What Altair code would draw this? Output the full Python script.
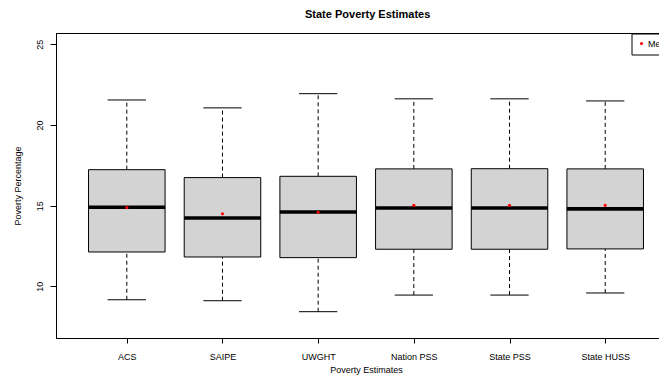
import altair as alt
import pandas as pd
import json

categories = ["ACS", "SAIPE", "UWGHT", "Nation PSS", "State PSS", "State HUSS"]
lower = [9.17, 9.11, 8.43, 9.46, 9.46, 9.59]
q1 = [12.13, 11.82, 11.78, 12.30, 12.30, 12.32]
median = [14.90, 14.24, 14.61, 14.86, 14.86, 14.80]
q3 = [17.23, 16.74, 16.82, 17.28, 17.29, 17.28]
upper = [21.55, 21.06, 21.94, 21.62, 21.62, 21.49]
means = [14.88, 14.50, 14.59, 15.02, 15.02, 15.02]
y_ticks = [10, 15, 20, 25]

df = pd.DataFrame({
    "cat": categories,
    "pos": list(range(1, len(categories) + 1)),
    "lower": lower, "q1": q1, "median": median, "q3": q3, "upper": upper,
    "mean": means, "label": ["Mean"] * len(categories),
})

FONT = "Liberation Sans"
label_expr = json.dumps(categories) + "[datum.value - 1]"

W = 603
H = 305
xs = alt.Scale(domain=[0.26, 0.26 + W / 95.68], nice=False, zero=False)
ys = alt.Scale(domain=[6.8, 25.7], nice=False, zero=False)

x_axis = alt.Axis(values=list(range(1, len(categories) + 1)), labelExpr=label_expr,
                  title="Poverty Estimates", grid=False, tickSize=5, labelPadding=16,
                  labelBaseline="alphabetic", titleX=310, titleY=31, titleBaseline="middle",
                  titleAnchor="middle")
y_axis = alt.Axis(values=y_ticks, title="Poverty Percentage", grid=False, tickSize=6,
                  labelAngle=270, labelAlign="center", labelBaseline="alphabetic",
                  labelPadding=8, titleX=-36, titleBaseline="alphabetic")

base = alt.Chart(df).transform_calculate(
    left="datum.pos - 0.4", right="datum.pos + 0.4",
    capl="datum.pos - 0.2", capr="datum.pos + 0.2")

whisk_up = base.mark_rule(color="black", strokeWidth=1, strokeDash=[4, 3]).encode(
    x=alt.X("pos:Q", scale=xs, axis=x_axis), y=alt.Y("q3:Q", scale=ys, axis=y_axis), y2="upper:Q")
whisk_lo = base.mark_rule(color="black", strokeWidth=1, strokeDash=[4, 3]).encode(
    x="pos:Q", y="lower:Q", y2="q1:Q")
cap_up = base.mark_rule(color="black", strokeWidth=1).encode(
    x="capl:Q", x2="capr:Q", y="upper:Q")
cap_lo = base.mark_rule(color="black", strokeWidth=1).encode(
    x="capl:Q", x2="capr:Q", y="lower:Q")
box = base.mark_rect(fill="#d3d3d3", stroke="black", strokeWidth=1).encode(
    x="left:Q", x2="right:Q", y="q1:Q", y2="q3:Q")
med = base.mark_rule(color="black", strokeWidth=3.6, strokeCap="butt").encode(
    x="left:Q", x2="right:Q", y="median:Q")
mean_pts = base.mark_point(filled=True, size=10, opacity=1, shape="circle").encode(
    x="pos:Q", y="mean:Q",
    color=alt.Color("label:N", scale=alt.Scale(domain=["Mean"], range=["red"]),
                    legend=alt.Legend(orient="none", legendX=575.5, legendY=0.5, title=None,
                                      strokeColor="black", fillColor="white", padding=5.5,
                                      symbolType="circle", symbolSize=10, symbolStrokeWidth=0,
                                      labelFontSize=9, labelFont=FONT, labelColor="black",
                                      labelOffset=2)))
top_line = alt.Chart(df).mark_rule(color="black", strokeWidth=1).encode(
    y=alt.value(0.5), x=alt.value(0), x2=alt.value(W + 12))
bottom_line = alt.Chart(df).mark_rule(color="black", strokeWidth=1).encode(
    y=alt.value(H + 0.5), x=alt.value(0), x2=alt.value(W + 12))

chart = alt.layer(top_line, bottom_line, whisk_up, whisk_lo, cap_up, cap_lo, box, med, mean_pts).properties(
    width=W, height=H,
    title=alt.TitleParams("State Poverty Estimates", fontSize=11, fontWeight="bold", font=FONT,
                          color="black", anchor="start", dx=249, offset=4, baseline="alphabetic",
                          frame="group"),
    padding={"left": 48, "top": 25, "right": 0, "bottom": 39},
    autosize=alt.AutoSizeParams(type="none"),
    background="white",
).configure_view(stroke=None).configure_axis(
    labelFont=FONT, titleFont=FONT, labelFontSize=9, titleFontSize=9,
    labelColor="black", titleColor="black", titleFontWeight="normal",
    domainColor="black", tickColor="black", domainWidth=1, tickWidth=1)

chart.save("out.html", embed_options={"renderer": "svg", "actions": False})
